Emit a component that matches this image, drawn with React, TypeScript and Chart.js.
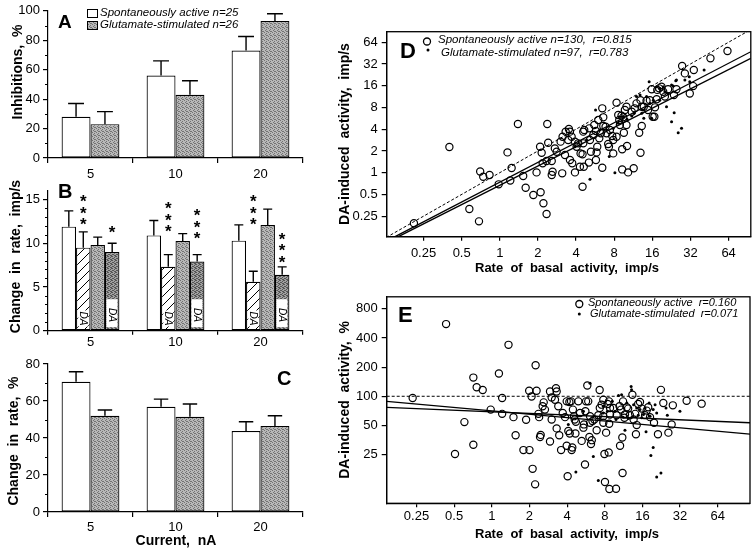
import React, { useEffect, useRef } from 'react';
import { Chart, registerables } from 'chart.js';
Chart.register(...registerables);

const FONT = '"Liberation Sans", Arial, Helvetica, sans-serif';
Chart.defaults.font.family = FONT;
Chart.defaults.font.size = 13;
Chart.defaults.color = '#000';

// ---------------- data ----------------
const CURRENTS = ['5', '10', '20'];

// Panel A: inhibitions, %
const A_TICKS = [0, 20, 40, 60, 80, 100];
const A_SPONT = [28, 56, 73];
const A_SPONT_SEM = [9, 10, 9.5];
const A_GLUT = [23, 43, 93];
const A_GLUT_SEM = [8.5, 9.5, 5];

// Panel B: change in rate, imp/s (control / during DA)
const B_TICKS = [0, 5, 10, 15];
const B_SPONT_CTRL = [11.9, 10.9, 10.3];
const B_SPONT_CTRL_SEM = [1.8, 1.7, 1.8];
const B_SPONT_DA = [9.5, 7.3, 5.6];
const B_SPONT_DA_SEM = [1.8, 1.4, 1.2];
const B_GLUT_CTRL = [9.8, 10.25, 12.1];
const B_GLUT_CTRL_SEM = [0.9, 0.85, 1.8];
const B_GLUT_DA = [9.0, 7.9, 6.4];
const B_GLUT_DA_SEM = [1.0, 0.8, 0.9];
const DA_BOX = [0.4, 3.6];
const DA_TEXT_AT = [1.4, 1.8];
const STAR_DATASET = [1, 3, 1, 3, 1, 3];
const STAR_GROUP = [0, 0, 1, 1, 2, 2];
const STAR_COUNT = [3, 1, 3, 3, 3, 3];
const STAR_TOP = [15.2, 11.7, 14.4, 13.6, 15.2, 10.9];

// Panel C: change in rate, %
const C_TICKS = [0, 20, 40, 60, 80];
const C_SPONT = [70.4, 56.9, 43.8];
const C_SPONT_SEM = [5.4, 4.1, 5.0];
const C_GLUT = [52, 51.5, 46.5];
const C_GLUT_SEM = [3.1, 6.9, 5.5];

// Panels D, E: log2 axes
const LOG2_TICKS = [0.25, 0.5, 1, 2, 4, 8, 16, 32, 64];
const E_Y_TICKS = [25, 50, 100, 200, 400, 800];

const D_SPONT_X = [0.21, 0.40, 0.575, 0.685, 0.70, 0.74, 0.83, 0.98, 1.15, 1.24, 1.21, 1.39, 1.53, 1.60, 1.84, 1.95, 2.08, 2.14, 2.10, 2.21,
  2.34, 2.37, 2.41, 2.18, 2.34, 2.57, 2.61, 2.57, 2.72, 2.81, 3.02, 3.13, 3.11, 3.27, 3.51, 3.58, 3.47, 3.58, 3.73, 3.92,
  4.04, 4.16, 4.29, 4.34, 4.50, 4.56, 4.64, 4.56, 4.60, 4.50, 5.05, 5.15, 5.24, 5.47, 5.57, 5.81, 5.88, 6.10, 5.99, 6.28,
  6.44, 6.44, 6.56, 6.84, 6.96, 7.27, 7.17, 7.40, 7.72, 8.35, 8.35, 8.61, 8.87, 9.14, 9.25, 9.25, 9.54, 9.71, 10.0, 10.1,
  10.0, 10.3, 11.4, 11.6, 12.6, 12.9, 13.2, 12.9, 13.2, 13.7, 14.4, 15.3, 15.8, 16.1, 16.6, 16.8, 17.3, 18.1, 19.5, 20.1,
  21.3, 23.7, 24.8, 27.5, 28.9, 31.6, 33.6, 34.0, 46.0, 62.7, 3.31, 3.69, 3.92, 5.08, 5.74, 6.56, 7.86, 8.77, 9.43, 11.0,
  12.0, 14.8, 17.5, 18.9, 7.86, 5.74];
const D_SPONT_Y = [0.20, 2.27, 0.314, 0.212, 1.04, 0.88, 0.93, 0.69, 1.91, 1.16, 0.78, 4.72, 0.90, 0.62, 0.49, 1.01, 2.29, 1.89, 0.535, 0.378,
  0.268, 4.72, 2.60, 1.35, 1.45, 0.93, 1.03, 1.45, 2.17, 1.95, 2.69, 3.15, 0.98, 1.76, 4.03, 3.70, 2.83, 1.50, 1.35, 1.01,
  2.29, 2.55, 1.21, 1.85, 0.64, 3.70, 3.90, 2.55, 1.21, 1.80, 1.38, 2.83, 1.95, 3.33, 4.57, 1.91, 2.29, 2.99, 5.36, 3.51,
  1.17, 7.78, 5.84, 4.34, 3.51, 2.29, 2.50, 3.90, 3.22, 3.15, 9.32, 6.29, 4.57, 6.16, 2.11, 1.11, 3.58, 7.38, 8.20, 2.34,
  4.57, 1.01, 1.15, 7.78, 3.58, 1.89, 4.43, 10.1, 8.20, 8.20, 9.93, 10.1, 14.3, 5.96, 5.96, 8.03, 10.4, 14.7, 13.2, 11.3,
  14.3, 11.9, 14.3, 30.0, 23.7, 12.5, 15.8, 26.4, 38.3, 48.3, 3.70, 3.15, 2.69, 4.11, 3.78, 4.43, 2.83, 5.36, 5.84, 6.99,
  9.12, 7.38, 14.0, 15.5, 1.85, 1.50];
const D_GLUT_X = [5.70, 5.15, 7.31, 8.10, 15.1, 22.7, 23.8, 25.6, 27.2, 41.0, 31.6, 24.5, 23.4, 20.7, 15.8, 13.7, 12.0, 11.5, 9.43, 10.1,
  12.8, 14.4, 17.3, 18.3, 19.5, 22.7, 24.8, 31.3, 28.9, 13.5, 11.0, 8.61, 7.86, 6.16, 4.84, 3.92, 15.3, 16.3, 20.1, 21.3,
  18.3, 13.2];
const D_GLUT_Y = [7.38, 0.81, 1.67, 1.0, 18.2, 5.08, 6.77, 3.58, 4.11, 26.4, 18.2, 18.8, 15.8, 8.2, 5.66, 5.66, 11.3, 6.63, 6.0, 5.48,
  11.9, 11.3, 15.5, 14.7, 15.5, 16.4, 19.2, 21.3, 19.2, 7.38, 6.09, 4.82, 4.11, 3.90, 2.83, 2.29, 9.12, 10.1, 13.2, 12.5,
  10.1, 6.63];
const D_IDENTITY_X = [0.1, 100];
const D_IDENTITY_Y = [0.1, 100];
const D_REG_SPONT_X = [0.149, 95.8];
const D_REG_SPONT_Y = [0.13, 47.3];
const D_REG_GLUT_X = [0.158, 95.8];
const D_REG_GLUT_Y = [0.13, 38.3];

const E_SPONT_X = [0.233, 0.431, 0.604, 0.508, 0.712, 0.712, 0.757, 0.846, 0.98, 1.14, 1.21, 1.21, 1.36, 1.49, 1.55, 1.79, 1.88, 2.0, 1.99, 2.08,
  2.12, 2.22, 2.24, 2.28, 2.36, 2.39, 2.43, 2.46, 2.55, 2.6, 2.66, 2.92, 3.01, 2.92, 3.01, 3.2, 3.26, 3.3, 3.3, 3.4,
  3.46, 3.58, 3.69, 3.85, 3.97, 4.04, 4.09, 4.17, 4.2, 4.3, 4.35, 4.4, 4.54, 4.6, 4.66, 4.7, 4.92, 5.07, 5.23, 5.4,
  5.45, 5.56, 5.67, 5.8, 5.9, 6.1, 6.03, 6.1, 6.21, 6.3, 6.38, 6.6, 6.89, 7.1, 7.28, 7.3, 7.55, 7.79, 7.79, 7.95,
  8.03, 8.2, 8.43, 8.6, 8.65, 8.81, 8.81, 8.68, 9.37, 9.84, 8.71, 9.96, 10.5, 10.6, 10.8, 11.05, 11.1, 11.5, 11.6, 12.0,
  12.3, 12.7, 13.3, 13.6, 14.0, 14.2, 14.4, 14.8, 15.3, 15.8, 16.8, 17.3, 17.8, 18.4, 19.8, 21.3, 22.5, 23.5, 25.8, 27.4,
  28.0, 36.1, 47.6, 3.97, 4.45, 5.6, 7.79, 11.2];
const E_SPONT_Y = [96, 557, 54.1, 25.3, 156, 31.6, 124, 116, 72.8, 172, 96, 65.8, 340, 60.9, 39.5, 27.8, 57.2, 27.8, 114, 99.6,
  17.8, 12.3, 209, 114, 65.8, 60.9, 38.0, 39.9, 78.8, 86.5, 72.8, 34.1, 57.6, 112, 97.3, 92.1, 121, 112, 46.6, 78.8,
  39.5, 27.8, 67.3, 60.9, 30.8, 14.9, 43.8, 87.2, 41.2, 88.6, 27.8, 29.6, 62.3, 57.6, 41.2, 54.5, 88.6, 67.3, 34.6, 47.4,
  51.2, 19.7, 88.6, 129, 88.6, 62.3, 38.0, 53.3, 32.1, 35.2, 55.4, 57.6, 44.5, 63.8, 116, 75.8, 81.9, 53.3, 62.3, 25.3,
  13.0, 42.1, 83.2, 26.3, 88.6, 64.8, 75.8, 52.0, 75.8, 11.1, 11.0, 63.8, 78.8, 30.8, 72.8, 37.5, 16.1, 59.9, 64.8, 76.9,
  74.6, 63.8, 103.6, 57.6, 65.8, 40.5, 50.4, 83.2, 87.2, 74.6, 63.8, 71.1, 76.9, 60.9, 53.3, 40.5, 116.5, 85.2, 42.1, 51.2,
  80.6, 90.0, 83.9, 88.6, 72.8, 70, 92, 88.6];
const E_GLUT_X = [6.1, 13.0, 13.1, 10.3, 10.9, 9.19, 7.79, 8.4, 9.84, 12.0, 13.6, 14.4, 15.3, 16.8, 18.1, 19.5, 20.8, 20.2, 24.7, 25.3,
  31.9, 17.1, 11.6, 6.48, 4.09, 4.7, 7.1, 19.5, 18.7, 20.8, 22.5, 9.66, 11.2, 12.3, 14.8, 16.3, 15.8, 18.4, 7.79, 5.4, 7.3];
const E_GLUT_Y = [136, 126, 116.5, 102, 103.6, 88.6, 67.3, 70.0, 57.6, 85.2, 81.9, 75.8, 72.8, 75.8, 85.2, 72.8, 67.3, 81.9, 75.8, 63.8,
  70.0, 43.1, 44.5, 23.8, 51.2, 16.5, 13.5, 29.6, 24.4, 14.7, 16.1, 70.0, 60.9, 59.0, 63.8, 64.8, 59.9, 62.3, 78.8, 70, 59.0];
const E_HUNDRED_X = [0.1, 200];
const E_HUNDRED_Y = [100, 100];
const E_REG_SPONT_X = [0.1445, 115.9];
const E_REG_SPONT_Y = [88.6, 40.6];
const E_REG_GLUT_X = [0.1445, 115.9];
const E_REG_GLUT_Y = [76.9, 53.3];

// ---------------- helpers ----------------
const zip = (xs: number[], ys: number[]) => xs.map((x, i) => ({ x, y: ys[i] }));

function makePatterns(target: CanvasRenderingContext2D) {
  const mk = (w: number, h: number, draw: (g: CanvasRenderingContext2D) => void) => {
    const c = document.createElement('canvas');
    c.width = w; c.height = h;
    const g = c.getContext('2d')!;
    draw(g);
    return target.createPattern(c, 'repeat')!;
  };
  const stipple = (g: CanvasRenderingContext2D, base: string, dot: string, cells: number[][]) => {
    g.fillStyle = base; g.fillRect(0, 0, 4, 4);
    g.fillStyle = dot;
    cells.forEach(([x, y]) => g.fillRect(x, y, 1, 1));
  };
  const gray = mk(4, 4, (g) => stipple(g, '#b8b8b8', '#737373', [[0, 0], [2, 1], [1, 2], [3, 3], [2, 3]]));
  const dark = mk(4, 4, (g) => stipple(g, '#a0a0a0', '#555555', [[0, 0], [2, 1], [1, 2], [3, 3], [2, 3], [0, 2], [3, 0]]));
  const hatch = mk(9, 9, (g) => {
    g.fillStyle = '#fff'; g.fillRect(0, 0, 9, 9);
    g.strokeStyle = '#000'; g.lineWidth = 1;
    for (const k of [-9, 0, 9]) {
      g.beginPath(); g.moveTo(-1 + k, 10); g.lineTo(10 + k, -1); g.stroke();
    }
  });
  return { gray, dark, hatch };
}

const errorBarsPlugin = {
  id: 'errorBars',
  afterDatasetsDraw(chart: any, _a: any, opts: any) {
    const ctx = chart.ctx;
    const ys = chart.scales.y;
    ctx.save();
    ctx.strokeStyle = '#000';
    ctx.lineWidth = 1.4;
    chart.data.datasets.forEach((ds: any, i: number) => {
      if (!ds.errors) return;
      chart.getDatasetMeta(i).data.forEach((bar: any, j: number) => {
        const yTop = ys.getPixelForValue(ds.data[j] + ds.errors[j]);
        const half = (bar.width * (opts.capRatio || 0.55)) / 2;
        ctx.beginPath();
        ctx.moveTo(bar.x, bar.y); ctx.lineTo(bar.x, yTop);
        ctx.moveTo(bar.x - half, yTop); ctx.lineTo(bar.x + half, yTop);
        ctx.stroke();
      });
    });
    ctx.restore();
  },
};

const minorTicksPlugin = {
  id: 'minorTicks',
  afterDraw(chart: any, _a: any, opts: any) {
    if (!opts || !opts.step) return;
    const s = chart.scales.y;
    const ctx = chart.ctx;
    ctx.save();
    ctx.strokeStyle = '#000'; ctx.lineWidth = 1;
    for (let v = s.min + opts.step; v < s.max - 1e-6; v += opts.step) {
      if (Math.abs(v / opts.major - Math.round(v / opts.major)) < 1e-6) continue;
      const y = Math.round(s.getPixelForValue(v)) + 0.5;
      ctx.beginPath(); ctx.moveTo(s.right - 3, y); ctx.lineTo(s.right, y); ctx.stroke();
    }
    ctx.restore();
  },
};

const textsPlugin = {
  id: 'texts',
  afterDraw(chart: any, _a: any, opts: any) {
    const ctx = chart.ctx;
    (opts.items || []).forEach((it: any) => {
      ctx.save();
      if (it.t === 'box') {
        ctx.fillStyle = it.fill; ctx.fillRect(it.x, it.y, it.w, it.h);
        ctx.strokeStyle = '#000'; ctx.lineWidth = 1; ctx.strokeRect(it.x + 0.5, it.y + 0.5, it.w, it.h);
      } else if (it.t === 'circle') {
        ctx.strokeStyle = '#000'; ctx.lineWidth = 1.3;
        ctx.beginPath(); ctx.arc(it.x, it.y, it.r, 0, Math.PI * 2); ctx.stroke();
      } else if (it.t === 'dot') {
        ctx.fillStyle = '#000';
        ctx.beginPath(); ctx.arc(it.x, it.y, it.r, 0, Math.PI * 2); ctx.fill();
      } else {
        ctx.translate(it.x, it.y);
        if (it.rot) ctx.rotate(it.rot);
        ctx.font = it.font;
        ctx.fillStyle = '#000';
        ctx.textAlign = it.align || 'left';
        ctx.textBaseline = it.base || 'middle';
        ctx.fillText(it.text, 0, 0);
      }
      ctx.restore();
    });
  },
};

const framePlugin = {
  id: 'frame',
  afterDatasetsDraw(chart: any) {
    const { ctx, chartArea: a } = chart;
    ctx.save();
    ctx.strokeStyle = '#000'; ctx.lineWidth = 1.3;
    ctx.strokeRect(a.left, a.top, a.right - a.left, a.bottom - a.top);
    ctx.restore();
  },
};

const bMarksPlugin = {
  id: 'bMarks',
  afterDatasetsDraw(chart: any) {
    const ctx = chart.ctx;
    const ys = chart.scales.y;
    ctx.save();
    chart.data.datasets.forEach((ds: any, di: number) => {
      if (!ds.daMark) return;
      chart.getDatasetMeta(di).data.forEach((bar: any) => {
        const w = bar.width;
        if (ds.daMark === 'box') {
          const yt = ys.getPixelForValue(DA_BOX[1]);
          const yb = ys.getPixelForValue(DA_BOX[0]);
          ctx.fillStyle = '#fff';
          ctx.fillRect(bar.x - w / 2 + 1.5, yt, w - 3.5, yb - yt);
        }
        const yc = ys.getPixelForValue(ds.daMark === 'box' ? DA_TEXT_AT[1] : DA_TEXT_AT[0]);
        ctx.save();
        ctx.translate(bar.x, yc);
        ctx.rotate(Math.PI / 2);
        ctx.font = 'italic 10px ' + FONT;
        if (ds.daMark === 'text') { ctx.fillStyle = '#fff'; ctx.fillRect(-8, -5, 16, 10); }
        ctx.fillStyle = '#000'; ctx.textAlign = 'center'; ctx.textBaseline = 'middle';
        ctx.fillText('DA', 0, 0);
        ctx.restore();
      });
    });
    ctx.restore();
  },
  afterDraw(chart: any) {
    const ctx = chart.ctx;
    const ys = chart.scales.y;
    ctx.save();
    ctx.font = 'bold 17px ' + FONT;
    ctx.fillStyle = '#000'; ctx.textAlign = 'center'; ctx.textBaseline = 'alphabetic';
    STAR_DATASET.forEach((di, k) => {
      const bar: any = chart.getDatasetMeta(di).data[STAR_GROUP[k]];
      const y0 = ys.getPixelForValue(STAR_TOP[k]);
      for (let n = 0; n < STAR_COUNT[k]; n++) {
        ctx.fillText('*', bar.x, y0 + n * 11.3 + 9.7);
      }
    });
    ctx.restore();
  },
};

const BORDER = { color: '#000', width: 1.2 };
const TICK_FONT = { size: 13, family: FONT };

function barScales(opts: any) {
  return {
    x: {
      grid: { offset: true, drawOnChartArea: false, drawTicks: true, tickLength: opts.xTickLen, color: '#000', lineWidth: 1.2 },
      border: BORDER,
      ticks: { padding: opts.xPad, color: '#000', font: TICK_FONT, maxRotation: 0 },
      afterFit: (s: any) => { s.height = opts.xHeight; },
    },
    y: {
      min: 0, max: opts.max, bounds: 'data',
      afterBuildTicks: (s: any) => { s.ticks = opts.ticks.map((v: number) => ({ value: v })); },
      grid: { drawOnChartArea: false, tickLength: 5, color: '#000', lineWidth: 1.2 },
      border: BORDER,
      ticks: { padding: 3, color: '#000', font: TICK_FONT },
      afterFit: (s: any) => { s.width = 48; },
    },
  };
}

function logAxis(min: number, max: number, ticks: number[], size: number, horizontal: boolean, pad: number) {
  return {
    type: 'logarithmic', min, max, bounds: 'data',
    afterBuildTicks: (s: any) => { s.ticks = ticks.map((v) => ({ value: v })); },
    grid: { drawOnChartArea: false, tickLength: horizontal ? 4 : 5, color: '#000', lineWidth: 1.2 },
    border: BORDER,
    ticks: { autoSkip: false, maxRotation: 0, padding: pad, color: '#000', font: TICK_FONT, callback: (v: any) => String(v) },
    afterFit: (s: any) => { if (horizontal) s.height = size; else s.width = size; },
  };
}

const baseOpts = {
  responsive: false, animation: false, devicePixelRatio: 1, events: [],
};

const barDs = (data: number[], errors: number[], bg: any, extra: any = {}) => ({
  data, errors, backgroundColor: bg, borderColor: '#000', borderWidth: 1.2, borderSkipped: false, ...extra,
});

const lineDs = (xs: number[], ys: number[], dash: number[] = []) => ({
  data: zip(xs, ys), showLine: true, borderColor: '#000', borderWidth: dash.length ? 1 : 1.3,
  borderDash: dash, pointRadius: 0, fill: false,
});

// ---------------- panel configs ----------------
function configA(ctx: CanvasRenderingContext2D) {
  const p = makePatterns(ctx);
  return {
    type: 'bar',
    data: { labels: CURRENTS, datasets: [barDs(A_SPONT, A_SPONT_SEM, '#fff'), barDs(A_GLUT, A_GLUT_SEM, p.gray)] },
    options: {
      ...baseOpts,
      layout: { padding: { top: 10, right: 17, left: 0, bottom: 0 } },
      datasets: { bar: { categoryPercentage: 0.68, barPercentage: 1 } },
      scales: barScales({ max: 100, ticks: A_TICKS, xHeight: 32, xTickLen: 5, xPad: 4 }),
      plugins: {
        legend: { display: false }, tooltip: { enabled: false },
        errorBars: { capRatio: 0.55 },
        minorTicks: { step: 10, major: 20 },
        texts: {
          items: [
            { t: 'box', x: 87, y: 9, w: 10, h: 8, fill: '#fff' },
            { t: 'text', text: 'Spontaneously active n=25', x: 100, y: 13, font: 'italic 11.5px ' + FONT },
            { t: 'box', x: 87, y: 21, w: 10, h: 8, fill: p.gray },
            { t: 'text', text: 'Glutamate-stimulated n=26', x: 100, y: 25, font: 'italic 11.5px ' + FONT },
            { t: 'text', text: 'A', x: 58, y: 28, font: 'bold 19px ' + FONT, base: 'alphabetic' },
            { t: 'text', text: 'Inhibitions,  %', x: 18, y: 72, rot: -Math.PI / 2, align: 'center', font: 'bold 14px ' + FONT },
          ],
        },
      },
    },
    plugins: [errorBarsPlugin, minorTicksPlugin, textsPlugin],
  };
}

function configB(ctx: CanvasRenderingContext2D) {
  const p = makePatterns(ctx);
  return {
    type: 'bar',
    data: {
      labels: CURRENTS,
      datasets: [
        barDs(B_SPONT_CTRL, B_SPONT_CTRL_SEM, '#fff'),
        barDs(B_SPONT_DA, B_SPONT_DA_SEM, p.hatch, { daMark: 'text' }),
        barDs(B_GLUT_CTRL, B_GLUT_CTRL_SEM, p.gray),
        barDs(B_GLUT_DA, B_GLUT_DA_SEM, p.dark, { daMark: 'box' }),
      ],
    },
    options: {
      ...baseOpts,
      layout: { padding: { top: 6, right: 17, left: 0, bottom: 0 } },
      datasets: { bar: { categoryPercentage: 0.68, barPercentage: 1 } },
      scales: barScales({ max: 16, ticks: B_TICKS, xHeight: 19.3, xTickLen: 4, xPad: 0 }),
      plugins: {
        legend: { display: false }, tooltip: { enabled: false },
        errorBars: { capRatio: 0.62 },
        minorTicks: { step: 1, major: 5 },
        texts: {
          items: [
            { t: 'text', text: 'B', x: 58, y: 18, font: 'bold 20px ' + FONT, base: 'alphabetic' },
            { t: 'text', text: 'Change  in  rate,  imp/s', x: 16, y: 76.5, rot: -Math.PI / 2, align: 'center', font: 'bold 14px ' + FONT },
          ],
        },
      },
    },
    plugins: [errorBarsPlugin, bMarksPlugin, minorTicksPlugin, textsPlugin],
  };
}

function configC(ctx: CanvasRenderingContext2D) {
  const p = makePatterns(ctx);
  return {
    type: 'bar',
    data: { labels: CURRENTS, datasets: [barDs(C_SPONT, C_SPONT_SEM, '#fff'), barDs(C_GLUT, C_GLUT_SEM, p.gray)] },
    options: {
      ...baseOpts,
      layout: { padding: { top: 14, right: 17, left: 0, bottom: 0 } },
      datasets: { bar: { categoryPercentage: 0.68, barPercentage: 1 } },
      scales: barScales({ max: 80, ticks: C_TICKS, xHeight: 38, xTickLen: 5, xPad: 3 }),
      plugins: {
        legend: { display: false }, tooltip: { enabled: false },
        errorBars: { capRatio: 0.5 },
        minorTicks: { step: 10, major: 20 },
        texts: {
          items: [
            { t: 'text', text: 'C', x: 277, y: 35, font: 'bold 20px ' + FONT, base: 'alphabetic' },
            { t: 'text', text: 'Change  in  rate,  %', x: 14, y: 91, rot: -Math.PI / 2, align: 'center', font: 'bold 14px ' + FONT },
            { t: 'text', text: 'Current,  nA', x: 176, y: 191, align: 'center', font: 'bold 14px ' + FONT },
          ],
        },
      },
    },
    plugins: [errorBarsPlugin, minorTicksPlugin, textsPlugin],
  };
}

const circleDs = (xs: number[], ys: number[]) => ({
  data: zip(xs, ys), pointRadius: 3.6, borderWidth: 1.2, borderColor: '#000', backgroundColor: 'rgba(0,0,0,0)',
  pointBorderColor: '#000', pointBackgroundColor: 'rgba(0,0,0,0)', showLine: false,
});
const dotDs = (xs: number[], ys: number[]) => ({
  data: zip(xs, ys), pointRadius: 1.5, borderWidth: 0, backgroundColor: '#000', pointBackgroundColor: '#000', showLine: false,
});

function configD() {
  return {
    type: 'scatter',
    data: {
      datasets: [
        circleDs(D_SPONT_X, D_SPONT_Y),
        dotDs(D_GLUT_X, D_GLUT_Y),
        lineDs(D_IDENTITY_X, D_IDENTITY_Y, [3, 2]),
        lineDs(D_REG_SPONT_X, D_REG_SPONT_Y),
        lineDs(D_REG_GLUT_X, D_REG_GLUT_Y),
      ],
    },
    options: {
      ...baseOpts,
      layout: { padding: { top: 31.7, right: 5, left: 0, bottom: 0 } },
      scales: {
        x: logAxis(0.128, 95.8, LOG2_TICKS, 48.3, true, 4.5),
        y: logAxis(0.13, 89.5, LOG2_TICKS, 66.7, false, 4),
      },
      plugins: {
        legend: { display: false }, tooltip: { enabled: false },
        texts: {
          items: [
            { t: 'circle', x: 107, y: 41.5, r: 3.5 },
            { t: 'text', text: 'Spontaneously active n=130,  r=0.815', x: 118, y: 40, font: 'italic 11.5px ' + FONT },
            { t: 'dot', x: 108, y: 50, r: 1.5 },
            { t: 'text', text: 'Glutamate-stimulated n=97,  r=0.783', x: 121, y: 53, font: 'italic 11.5px ' + FONT },
            { t: 'text', text: 'D', x: 80, y: 58, font: 'bold 22px ' + FONT, base: 'alphabetic' },
            { t: 'text', text: 'DA-induced  activity,  imp/s', x: 25, y: 134, rot: -Math.PI / 2, align: 'center', font: 'bold 14px ' + FONT },
            { t: 'text', text: 'Rate  of  basal  activity,  imp/s', x: 247, y: 268, align: 'center', font: 'bold 13px ' + FONT },
          ],
        },
      },
    },
    plugins: [framePlugin, textsPlugin],
  };
}

function configE() {
  return {
    type: 'scatter',
    data: {
      datasets: [
        circleDs(E_SPONT_X, E_SPONT_Y),
        dotDs(E_GLUT_X, E_GLUT_Y),
        lineDs(E_HUNDRED_X, E_HUNDRED_Y, [3, 2]),
        lineDs(E_REG_SPONT_X, E_REG_SPONT_Y),
        lineDs(E_REG_GLUT_X, E_REG_GLUT_Y),
      ],
    },
    options: {
      ...baseOpts,
      layout: { padding: { top: 9, right: 6, left: 0, bottom: 0 } },
      scales: {
        x: logAxis(0.1445, 115.9, LOG2_TICKS, 46.7, true, 1),
        y: logAxis(7.84, 1066, E_Y_TICKS, 66.7, false, 4),
      },
      plugins: {
        legend: { display: false }, tooltip: { enabled: false },
        texts: {
          items: [
            { t: 'circle', x: 259.3, y: 19, r: 3.5 },
            { t: 'text', text: 'Spontaneously active  r=0.160', x: 268, y: 18.3, font: 'italic 11px ' + FONT },
            { t: 'dot', x: 259.3, y: 29, r: 1.5 },
            { t: 'text', text: 'Glutamate-stimulated  r=0.071', x: 270, y: 28.5, font: 'italic 11px ' + FONT },
            { t: 'text', text: 'E', x: 78, y: 36.7, font: 'bold 22px ' + FONT, base: 'alphabetic' },
            { t: 'text', text: 'DA-induced  activity,  %', x: 25, y: 115, rot: -Math.PI / 2, align: 'center', font: 'bold 14px ' + FONT },
            { t: 'text', text: 'Rate  of  basal  activity,  imp/s', x: 247, y: 249, align: 'center', font: 'bold 13px ' + FONT },
          ],
        },
      },
    },
    plugins: [framePlugin, textsPlugin],
  };
}

// ---------------- components ----------------
function Panel({ left, top, width, height, build }: { left: number; top: number; width: number; height: number; build: (ctx: CanvasRenderingContext2D) => any }) {
  const ref = useRef<HTMLCanvasElement>(null);
  useEffect(() => {
    const cv = ref.current!;
    const chart = new Chart(cv, build(cv.getContext('2d')!));
    return () => chart.destroy();
  }, []);
  return (
    <canvas ref={ref} width={width} height={height}
      style={{ position: 'absolute', left, top, width, height, display: 'block' }} />
  );
}

export default function App() {
  return (
    <div style={{ position: 'absolute', left: 0, top: 0, width: 756, height: 550, background: '#fff', overflow: 'hidden' }}>
      <Panel left={0} top={0} width={320} height={190} build={configA} />
      <Panel left={0} top={180} width={320} height={170} build={configB} />
      <Panel left={0} top={350} width={320} height={200} build={configC} />
      <Panel left={320} top={0} width={436} height={285} build={() => configD()} />
      <Panel left={320} top={285} width={436} height={265} build={() => configE()} />
    </div>
  );
}
